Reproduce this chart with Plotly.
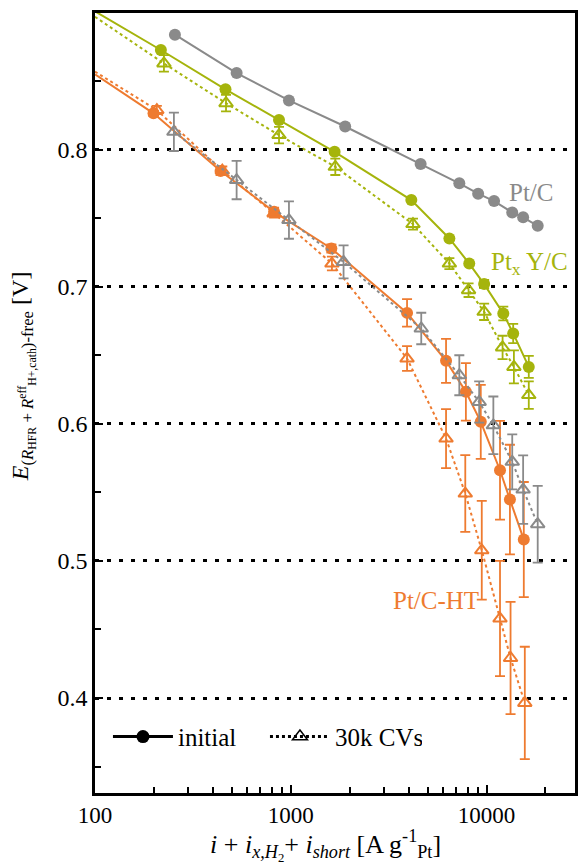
import plotly.graph_objects as go

# Pt/C (grey)
ptc_init_x = [256, 529, 979, 1897, 4606, 7262, 9063, 10927, 13534, 15382, 18260]
ptc_init_y = [0.884, 0.856, 0.836, 0.817, 0.7896, 0.7755, 0.768, 0.7626, 0.7543, 0.7507, 0.7445]
ptc_cv_x = [253, 529, 979, 1861, 4641, 7262, 9173, 10838, 13534, 15382, 18260]
ptc_cv_y = [0.8131, 0.7779, 0.7487, 0.7182, 0.6696, 0.6355, 0.616, 0.599, 0.5723, 0.5521, 0.5268]
ptc_cv_err = [0.014, 0.014, 0.0136, 0.012, 0.0115, 0.0146, 0.015, 0.021, 0.02, 0.025, 0.028]

# PtxY/C (green)
ptyc_init_x = [217, 464, 871, 1675, 4130, 6461, 8162, 9724, 12180, 13686, 16440]
ptyc_init_y = [0.8728, 0.8441, 0.8217, 0.7985, 0.7633, 0.7353, 0.717, 0.702, 0.6806, 0.666, 0.6416]
ptyc_init_err = [0, 0, 0, 0, 0, 0, 0, 0.003, 0.005, 0.007, 0.008]
ptyc_cv_x = [225, 467, 871, 1689, 4211, 6461, 8096, 9724, 12080, 13800, 16440]
ptyc_cv_y = [0.863, 0.834, 0.8107, 0.7876, 0.7458, 0.717, 0.6976, 0.6818, 0.6558, 0.6416, 0.621]
ptyc_cv_err = [0.006, 0.006, 0.006, 0.006, 0.004, 0.004, 0.005, 0.006, 0.0085, 0.012, 0.01]

# Pt/C-HT (orange)
ptcht_init_x = [199, 438, 822, 1612, 3927, 6213, 7846, 9346, 11720, 13170, 15505]
ptcht_init_y = [0.8266, 0.7845, 0.7547, 0.728, 0.681, 0.646, 0.6234, 0.6015, 0.5662, 0.5448, 0.5156]
ptcht_init_err = [0.002, 0.003, 0.003, 0.003, 0.01, 0.016, 0.021, 0.027, 0.036, 0.04, 0.042]
ptcht_cv_x = [207, 447, 822, 1623, 3927, 6213, 7790, 9457, 11720, 13267, 15690]
ptcht_cv_y = [0.829, 0.7848, 0.7536, 0.717, 0.6477, 0.5893, 0.5492, 0.5078, 0.458, 0.4292, 0.3964]
ptcht_cv_err = [0.003, 0.003, 0.003, 0.005, 0.009, 0.0215, 0.028, 0.036, 0.042, 0.041, 0.041]

# Tafel-line extrapolation to the low-current edge of the axis
tafel_x = 100
ptyc_init_tafel = 0.901
ptyc_cv_tafel = 0.897
ptcht_init_tafel = 0.855
ptcht_cv_tafel = 0.857

y_ticks = [0.4, 0.5, 0.6, 0.7, 0.8]
y_minor = [0.35, 0.45, 0.55, 0.65, 0.75, 0.85]
x_ticks = [100, 1000, 10000]
x_tick_text = ["100", "1000", "10000"]
x_minor = [200, 300, 400, 500, 600, 700, 800, 900,
           2000, 3000, 4000, 5000, 6000, 7000, 8000, 9000, 20000]

GREY = "#8a8a8a"
GREEN = "#a5b40c"
ORANGE = "#ee7b30"
FONT = "Liberation Serif, Times New Roman, serif"

fig = go.Figure()


def add_series(x, y, err, color, symbol, dash, tafel=None, open_marker=False):
    lx = list(x)
    ly = list(y)
    if tafel is not None:
        lx = [tafel_x] + lx
        ly = [tafel] + ly
    fig.add_trace(go.Scatter(x=lx, y=ly, mode="lines", showlegend=False,
                             line=dict(color=color, width=2, dash=dash)))
    marker = dict(symbol=symbol, size=12, color=color)
    if open_marker:
        marker = dict(symbol=symbol, size=12, color=color, line=dict(color=color, width=2))
    ed = None
    if err is not None:
        ed = dict(type="data", array=err, visible=True, color=color,
                  thickness=1.8, width=5)
    fig.add_trace(go.Scatter(x=x, y=y, mode="markers", showlegend=False,
                             marker=marker, error_y=ed))


add_series(ptc_init_x, ptc_init_y, None, GREY, "circle", "solid")
add_series(ptyc_init_x, ptyc_init_y, ptyc_init_err, GREEN, "circle", "solid", ptyc_init_tafel)
add_series(ptyc_cv_x, ptyc_cv_y, ptyc_cv_err, GREEN, "triangle-up-open", "dot", ptyc_cv_tafel, True)
add_series(ptcht_init_x, ptcht_init_y, ptcht_init_err, ORANGE, "circle", "solid", ptcht_init_tafel)
add_series(ptcht_cv_x, ptcht_cv_y, ptcht_cv_err, ORANGE, "triangle-up-open", "dot", ptcht_cv_tafel, True)
add_series(ptc_cv_x, ptc_cv_y, ptc_cv_err, GREY, "triangle-up-open", "dot", None, True)

# legend entries (black)
fig.add_trace(go.Scatter(x=[None], y=[None], mode="lines+markers", name="initial",
                         line=dict(color="black", width=3),
                         marker=dict(symbol="circle", size=13, color="black")))
fig.add_trace(go.Scatter(x=[None], y=[None], mode="lines+markers", name="30k CVs",
                         line=dict(color="black", width=3, dash="dot"),
                         marker=dict(symbol="triangle-up-open", size=13, color="black",
                                     line=dict(color="black", width=1.5))))

# sample labels
fig.add_annotation(x=4.106, y=0.769, xref="x", yref="y", text="Pt/C", showarrow=False,
                   font=dict(family=FONT, size=25, color=GREY), xanchor="left")
fig.add_annotation(x=4.015, y=0.717, xref="x", yref="y", text="Pt<sub>x</sub> Y/C", showarrow=False,
                   font=dict(family=FONT, size=25, color=GREEN), xanchor="left")
fig.add_annotation(x=3.513, y=0.4715, xref="x", yref="y", text="Pt/C-HT", showarrow=False,
                   font=dict(family=FONT, size=25, color=ORANGE), xanchor="left")

# axis titles
fig.add_annotation(x=-0.149, y=0.535, xref="paper", yref="paper", textangle=-90,
                   xanchor="center", yanchor="middle", showarrow=False,
                   text="<i>E</i><sub>(<i>R</i><sub>HFR</sub> + <i>R</i><sup>eff</sup><sub>H+,cath</sub>)-free</sub> [V]",
                   font=dict(size=24, family=FONT, color="black"))
fig.add_annotation(x=0.48, y=-0.067, xref="paper", yref="paper",
                   xanchor="center", yanchor="middle", showarrow=False,
                   text="<i>i</i> + <i>i</i><sub><i>x,H</i><sub>2</sub></sub>+ <i>i</i><sub><i>short</i></sub> [A g<sup>-1</sup><sub>Pt</sub>]",
                   font=dict(size=26, family=FONT, color="black"))

fig.update_layout(
    width=581, height=865,
    margin=dict(l=95, r=3, t=13, b=72),
    paper_bgcolor="white", plot_bgcolor="white",
    font=dict(family=FONT, size=23, color="black"),
    showlegend=True,
    legend=dict(orientation="h", x=0.027, y=0.072, xanchor="left", yanchor="middle",
                bgcolor="rgba(0,0,0,0)", itemwidth=60, font=dict(size=25, family=FONT),
                entrywidth=82),
)

fig.update_xaxes(
    type="log", range=[2, 4.452],
    showline=True, linecolor="black", linewidth=2.5, mirror=True,
    ticks="inside", ticklen=8, tickwidth=2, tickcolor="black",
    tickvals=x_ticks, ticktext=x_tick_text,
    minor=dict(ticks="inside", ticklen=6, tickwidth=2, tickcolor="black", tickvals=x_minor),
    showgrid=False, zeroline=False,
    tickfont=dict(size=23, family=FONT, color="black"),
)

fig.update_yaxes(
    range=[0.3307, 0.8998],
    showline=True, linecolor="black", linewidth=2.5, mirror=True,
    ticks="inside", ticklen=8, tickwidth=2, tickcolor="black",
    tickvals=y_ticks, ticktext=[f"{v:.1f}" for v in y_ticks],
    minor=dict(ticks="inside", ticklen=6, tickwidth=2, tickcolor="black", tickvals=y_minor,
               showgrid=False),
    showgrid=True, gridcolor="black", gridwidth=3, griddash="4px,8px",
    zeroline=False,
    tickfont=dict(size=24, family=FONT, color="black"),
)

fig.write_html("out.html")
